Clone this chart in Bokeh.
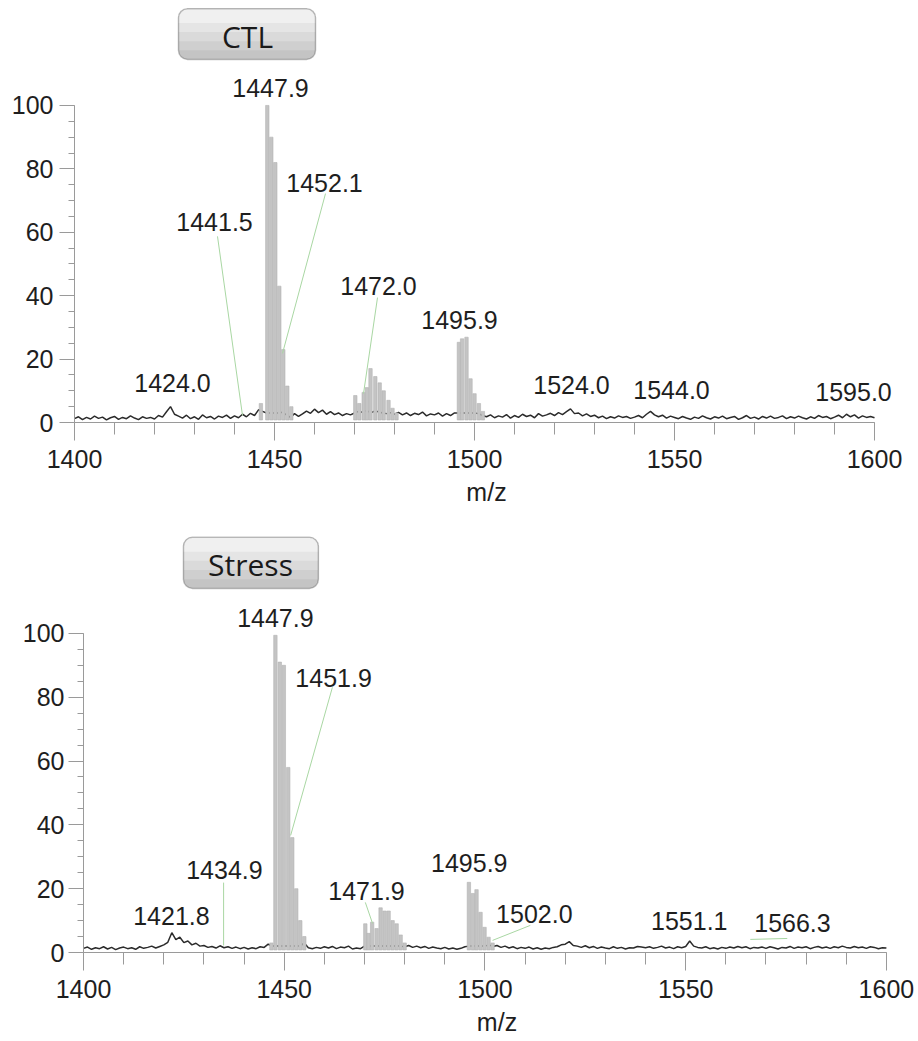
from bokeh.plotting import figure
from bokeh.models import Range1d, FixedTicker, BoxAnnotation, ColumnDataSource, LabelSet
from bokeh.layouts import column, row
from bokeh.core.properties import value
from bokeh.embed import file_html
from bokeh.resources import INLINE

# ---------------- data ----------------
noise_mz = list(range(1400, 1601))

ctl_noise = [
    1.2, 1.8, 0.9, 1.6, 1.1, 2.0, 1.3, 1.7, 0.8, 1.5,
    1.9, 1.0, 1.6, 1.2, 2.1, 1.4, 0.9, 1.8, 1.3, 1.6,
    1.1, 2.2, 1.7, 3.4, 5.0, 2.6, 2.0, 1.4, 2.3, 1.2,
    1.8, 1.0, 2.4, 1.5, 1.9, 1.1, 2.0, 1.6, 2.3, 1.3,
    2.1, 1.5, 2.6, 1.8, 2.9, 2.2, 4.0, 3.5, 3.0, 3.0,
    3.0, 3.0, 3.2, 2.4, 1.6, 2.8, 1.9, 2.7, 3.6, 2.9,
    4.2, 3.1, 3.9, 2.6, 3.4, 2.5, 3.0, 2.2, 2.8, 2.4,
    3.0, 3.5, 3.2, 3.8, 3.0, 3.6, 3.4, 3.0, 2.8, 3.1,
    2.6, 3.2, 2.4, 3.0, 2.2, 2.9, 2.5, 3.3, 2.1, 2.7,
    2.4, 3.0, 2.0, 2.8, 2.2, 3.0, 3.0, 3.0, 3.0, 3.0,
    3.0, 2.8, 2.2, 1.8, 2.4, 1.5, 2.1, 1.7, 2.5, 1.4,
    2.2, 1.6, 2.6, 1.9, 2.3, 1.5, 2.8, 2.0, 2.4, 2.9,
    2.2, 3.1, 2.5, 3.4, 4.3, 2.8, 3.0, 2.1, 2.7, 1.9,
    2.3, 1.5, 2.0, 1.2, 1.8, 1.4, 2.1, 1.6, 1.9, 1.3,
    1.7, 2.2, 1.5, 2.6, 3.5, 2.4, 1.8, 2.3, 1.4, 2.0,
    1.6, 1.2, 1.9, 1.4, 1.0, 1.7, 1.3, 2.1, 1.5, 1.1,
    1.8, 1.4, 2.0, 1.2, 1.6, 1.9, 1.0, 1.5, 2.2, 1.3,
    1.7, 1.1, 1.9, 1.4, 2.0, 1.3, 1.6, 2.1, 1.2, 1.8,
    1.4, 2.0, 1.5, 1.1, 1.8, 1.3, 2.2, 1.6, 1.9, 1.2,
    1.7, 2.3, 1.5, 2.6, 1.8, 2.4, 1.4, 2.1, 1.6, 1.9,
    1.5,
]

stress_noise = [
    1.3, 1.7, 1.0, 1.5, 1.2, 1.8, 1.1, 1.6, 0.9, 1.4,
    1.7, 1.2, 1.5, 1.0, 1.8, 1.3, 1.6, 2.0, 1.4, 1.9,
    2.4, 3.2, 6.2, 4.0, 4.8, 3.1, 3.6, 2.4, 2.9, 2.0,
    2.2, 1.6, 1.9, 1.4, 2.1, 1.5, 1.8, 1.3, 1.7, 1.2,
    1.6, 1.1, 1.5, 1.2, 1.8, 1.6, 2.6, 2.0, 2.0, 2.0,
    2.0, 2.0, 2.0, 2.0, 2.0, 3.0, 1.5, 1.2, 1.6, 1.3,
    1.8, 1.4, 1.9, 1.2, 1.7, 1.5, 2.0, 1.1, 1.4, 1.2,
    2.0, 2.0, 2.0, 2.0, 2.0, 2.0, 2.0, 2.0, 2.0, 2.0,
    1.8, 2.2, 1.6, 2.0, 1.5, 1.9, 1.3, 1.7, 1.4, 1.2,
    1.6, 1.1, 1.4, 1.0, 1.3, 1.8, 2.0, 2.0, 2.0, 2.0,
    2.0, 2.4, 1.9, 2.2, 1.6, 2.0, 1.4, 1.8, 1.2, 1.6,
    1.3, 1.7, 1.1, 1.5, 1.0, 1.4, 1.2, 1.6, 1.8, 2.4,
    2.6, 3.4, 2.2, 2.0, 1.6, 2.1, 1.5, 1.9, 1.3, 1.7,
    1.4, 1.2, 1.8, 1.3, 1.6, 1.1, 1.5, 1.4, 1.9, 1.7,
    1.5, 1.8, 1.3, 1.6, 2.0, 1.4, 1.7, 1.2, 1.8, 1.5,
    1.9, 3.6, 2.0, 1.6, 1.4, 1.8, 1.2, 1.5, 1.1, 1.6,
    1.3, 1.7, 1.4, 1.9, 1.5, 1.8, 1.2, 1.6, 1.4, 1.7,
    1.3, 1.8, 1.5, 1.1, 1.6, 1.4, 1.9, 1.3, 1.7, 1.5,
    1.8, 1.2, 1.6, 1.9, 1.4, 1.7, 1.3, 1.8, 1.5, 2.0,
    1.6, 1.4, 1.9, 1.5, 1.7, 1.3, 1.8, 1.6, 1.2, 1.5,
    1.4,
]

ctl_peak_mz = [1446.6, 1448.2, 1449.2, 1450.2, 1451.2, 1452.2, 1453.2, 1454.2,
               1470.2, 1471.2, 1472.3, 1473.1, 1474.0, 1475.2, 1476.3, 1477.3, 1478.5, 1479.5, 1480.5,
               1496.1, 1496.9, 1498.0, 1499.0, 1500.0, 1501.1, 1502.1]
ctl_peak_int = [6, 100, 90, 82, 43, 23, 11.5, 5,
                8.5, 6, 9.5, 11, 17, 14.5, 12.5, 10, 7, 4.5, 3,
                25.3, 26.4, 26.9, 13.8, 9.1, 6, 3.5]

stress_peak_mz = [1446.8, 1447.8, 1448.9, 1449.9, 1451.0, 1452.0, 1453.0, 1454.0, 1455.0,
                  1470.2, 1471.0, 1471.9, 1473.0, 1474.0, 1475.0, 1476.0, 1477.0, 1478.0, 1479.0, 1480.0,
                  1496.0, 1497.0, 1497.9, 1498.9, 1499.9, 1500.9, 1501.9]
stress_peak_int = [3, 99.4, 91, 90, 58, 36, 20, 10, 5,
                   9, 6, 9.5, 7.5, 14, 13, 13, 10, 9, 5.5, 3,
                   22, 18.5, 19.7, 12.6, 7.9, 4.8, 3]

ctl_labels = ["1447.9", "1441.5", "1452.1", "1472.0", "1495.9", "1424.0", "1524.0", "1544.0", "1595.0"]
ctl_label_x = [1449.0, 1435.0, 1462.5, 1476.0, 1496.25, 1424.5, 1524.25, 1549.25, 1594.75]
ctl_label_y = [105.4, 63.1, 75.4, 42.9, 32.2, 12.6, 11.7, 10.1, 9.5]
ctl_lead_x0 = [1435.75, 1462.75, 1475.75]
ctl_lead_y0 = [58.7, 72.2, 39.4]
ctl_lead_x1 = [1442.0, 1452.0, 1472.25]
ctl_lead_y1 = [2.2, 21.8, 9.1]

stress_labels = ["1447.9", "1451.9", "1434.9", "1421.8", "1471.9", "1495.9", "1502.0", "1551.1", "1566.3"]
stress_label_x = [1447.8, 1462.3, 1435.1, 1421.9, 1470.5, 1496.1, 1512.3, 1550.9, 1576.6]
stress_label_y = [104.7, 85.9, 25.7, 11.3, 19.4, 28.2, 12.2, 10.0, 9.1]
stress_lead_x0 = [1462.0, 1434.9, 1470.2, 1511.3, 1566.1]
stress_lead_y0 = [83.1, 21.9, 15.7, 8.5, 4.1]
stress_lead_x1 = [1451.6, 1434.9, 1472.0, 1501.9, 1575.3]
stress_lead_y1 = [36.7, 2.2, 9.1, 3.8, 4.4]

x_major = [1400, 1450, 1500, 1550, 1600]
x_minor = list(range(1400, 1601, 10))
y_major = [0, 20, 40, 60, 80, 100]
y_minor = list(range(0, 101, 5))

FONT = "Liberation Sans"
TXT = "#1e1e1e"
AX = "#9a9a9a"
BAND_FRAC = [0.82, 0.64, 0.46, 0.28]
BAND_COLORS = ["#cfcfcf", "#dadada", "#e5e5e5", "#f0f0f0"]


def panel(title, noise, pk_mz, pk_int, labels, lx, ly, l0x, l0y, l1x, l1y,
          height, ytop, xend, left, right, bottom, box, ystand):
    p = figure(width=918, height=height, x_range=Range1d(1400, xend), y_range=Range1d(0, ytop),
               output_backend="svg", toolbar_location=None,
               min_border_left=left, min_border_right=right, min_border_top=0,
               min_border_bottom=bottom)
    p.outline_line_color = None
    p.xgrid.visible = False
    p.ygrid.visible = False
    p.background_fill_color = "white"

    # title button (behind glyphs) with a soft vertical shading
    bl, br, bt, bb, tx, ty = box
    h = bt - bb
    p.add_layout(BoxAnnotation(left=bl, right=br, top=bt, bottom=bb, fill_color="#c4c4c4",
                               fill_alpha=1, line_color=None, border_radius=9, level="underlay"))
    for f, c in zip(BAND_FRAC, BAND_COLORS):
        p.add_layout(BoxAnnotation(left=bl, right=br, top=bt, bottom=bt - f * h, fill_color=c,
                                   fill_alpha=1, line_color=None, border_radius=(9, 9, 0, 0),
                                   level="underlay"))
    p.add_layout(BoxAnnotation(left=bl, right=br, top=bt, bottom=bb, fill_color=None,
                               fill_alpha=0, line_color="#3a3a3a", line_width=1.5,
                               border_radius=9, level="underlay"))
    p.text(x=[tx], y=[ty], text=[title], text_font=value("Open Sans"), text_font_size="30px",
           text_align="center", text_baseline="middle", text_color="#1a1a1a")

    # noise trace
    p.line(noise_mz, noise, line_color="#2b2b2b", line_width=1.5)
    # peaks
    src = ColumnDataSource(dict(x=pk_mz, top=pk_int))
    p.vbar(x="x", top="top", bottom=0.8, width=0.85, source=src,
           fill_color="#c4c4c4", line_color="#b4b4b4", line_width=0.6)
    # leader lines
    p.segment(x0=l0x, y0=l0y, x1=l1x, y1=l1y, line_color="#a9d7a3", line_width=1)
    # peak labels
    lsrc = ColumnDataSource(dict(x=lx, y=ly, t=labels))
    p.add_layout(LabelSet(x="x", y="y", text="t", source=lsrc, text_font=value(FONT),
                          text_font_size="25px", text_align="center", text_baseline="middle",
                          text_color=TXT))

    # axes
    xa = p.xaxis[0]
    xa.ticker = FixedTicker(ticks=x_major, minor_ticks=x_minor)
    xa.bounds = (1400, 1600)
    xa.axis_line_color = AX
    xa.major_tick_line_color = AX
    xa.minor_tick_line_color = AX
    xa.major_tick_in = 0
    xa.minor_tick_in = 0
    xa.major_tick_out = 18
    xa.minor_tick_out = 12
    xa.major_label_standoff = 9
    xa.major_label_text_font = FONT
    xa.major_label_text_font_size = "25px"
    xa.major_label_text_color = TXT
    xa.axis_label = "m/z"
    xa.axis_label_text_font = FONT
    xa.axis_label_text_font_size = "25px"
    xa.axis_label_text_font_style = "normal"
    xa.axis_label_text_color = TXT
    xa.axis_label_standoff = 7

    ya = p.yaxis[0]
    ya.ticker = FixedTicker(ticks=y_major, minor_ticks=y_minor)
    ya.bounds = (0, 100)
    ya.axis_line_color = AX
    ya.major_tick_line_color = AX
    ya.minor_tick_line_color = AX
    ya.major_tick_in = 0
    ya.minor_tick_in = 0
    ya.major_tick_out = 15
    ya.minor_tick_out = 6
    ya.major_label_standoff = ystand
    ya.major_label_text_font = FONT
    ya.major_label_text_font_size = "25px"
    ya.major_label_text_color = TXT
    return p


p1 = panel("CTL", ctl_noise, ctl_peak_mz, ctl_peak_int, ctl_labels, ctl_label_x, ctl_label_y,
           ctl_lead_x0, ctl_lead_y0, ctl_lead_x1, ctl_lead_y1,
           height=511, ytop=133.1, xend=1606, left=74, right=20, bottom=89,
           box=(1426.0, 1460.25, 130.5, 114.5, 1443.25, 121.6), ystand=6)
p2 = panel("Stress", stress_noise, stress_peak_mz, stress_peak_int, stress_labels,
           stress_label_x, stress_label_y,
           stress_lead_x0, stress_lead_y0, stress_lead_x1, stress_lead_y1,
           height=530, ytop=138.2, xend=1606, left=83, right=8, bottom=89,
           box=(1424.9, 1458.5, 130.1, 114.1, 1441.6, 121.6), ystand=4)

layout = column(row(p1), row(p2))
open("out.html", "w").write(file_html(layout, INLINE))
